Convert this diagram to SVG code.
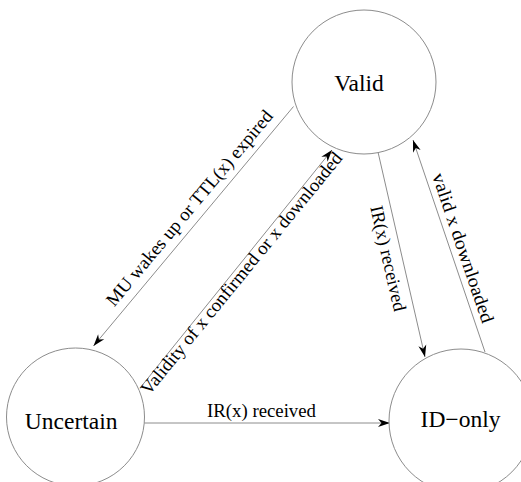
<svg xmlns="http://www.w3.org/2000/svg" width="521" height="482" viewBox="0 0 521 482">
  <style>
    .state { fill: #ffffff; stroke: #8c8c8c; stroke-width: 1; }
    .edge { stroke: #8c8c8c; stroke-width: 1; fill: none; marker-end: url(#arrow); }
    .node-label { font-family: "Liberation Serif", "Times New Roman", serif; font-size: 23.5px; fill: #000; text-anchor: middle; }
    .edge-label { font-family: "Liberation Serif", "Times New Roman", serif; font-size: 18.5px; fill: #000; text-anchor: middle; }
  </style>
  <defs>
    <marker id="arrow" viewBox="-13 -5 14 10" refX="0" refY="0" markerWidth="14" markerHeight="10" markerUnits="userSpaceOnUse" orient="auto">
      <path d="M0,0 L-12,-4 L-8.5,0 L-12,4 Z" fill="#000"/>
    </marker>
  </defs>
  <rect width="521" height="482" fill="#ffffff"/>

  <!-- transitions -->
  <g id="connectors">
    <line class="edge" x1="293.5" y1="106.5" x2="93.5" y2="346"/>
    <line class="edge" x1="140" y1="388" x2="332" y2="150"/>
    <line class="edge" x1="378" y1="152" x2="425" y2="357"/>
    <line class="edge" x1="485" y1="352" x2="413" y2="140"/>
    <line class="edge" x1="144" y1="423" x2="390" y2="423"/>

    <text class="edge-label" transform="translate(194,212) rotate(-50.1)" textLength="249" lengthAdjust="spacingAndGlyphs">MU wakes up or TTL(x) expired</text>
    <text class="edge-label" transform="translate(246.1,277.2) rotate(-50.7)" textLength="307" lengthAdjust="spacingAndGlyphs">Validity of x confirmed or x downloaded</text>
    <text class="edge-label" transform="translate(382.2,259.8) rotate(77.1)" textLength="108" lengthAdjust="spacingAndGlyphs">IR(x) received</text>
    <text class="edge-label" transform="translate(457.2,249.9) rotate(71.25)" textLength="157" lengthAdjust="spacingAndGlyphs">valid x downloaded</text>
    <text class="edge-label" x="261.5" y="417" textLength="109" lengthAdjust="spacingAndGlyphs">IR(x) received</text>
  </g>

  <!-- states -->
  <g id="valid">
    <circle class="state" cx="364" cy="82" r="72"/>
    <text class="node-label" x="359" y="90.7">Valid</text>
  </g>
  <g id="uncertain">
    <circle class="state" cx="75.5" cy="417" r="69"/>
    <text class="node-label" x="71.2" y="429.3">Uncertain</text>
  </g>
  <g id="id-only">
    <circle class="state" cx="461" cy="421" r="72"/>
    <text class="node-label" x="460.5" y="426.7">ID−only</text>
  </g>
</svg>
